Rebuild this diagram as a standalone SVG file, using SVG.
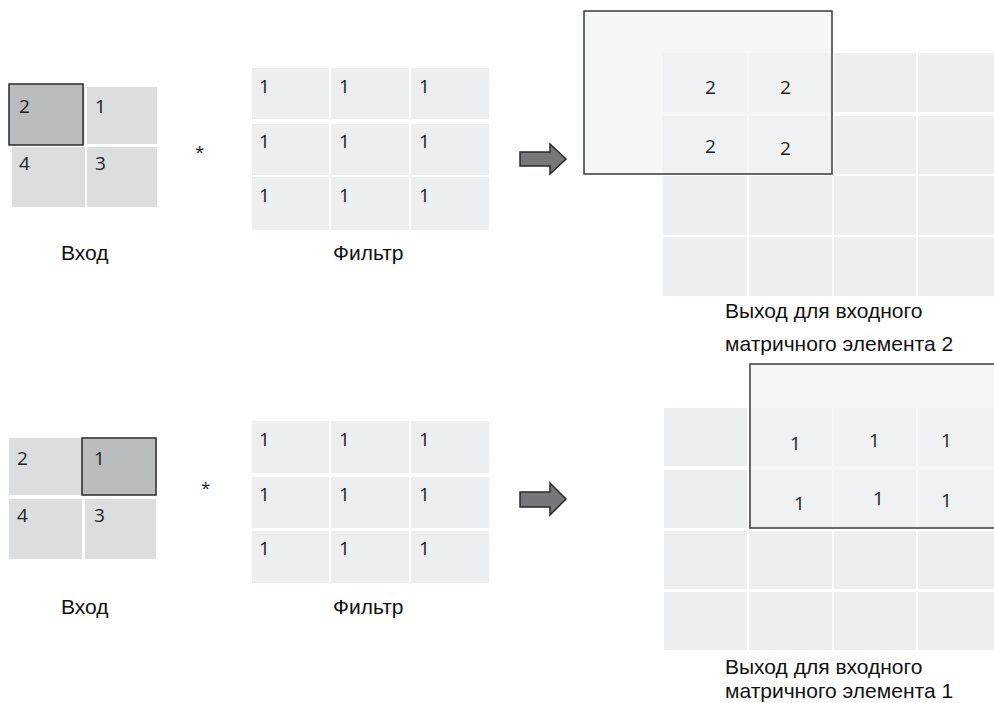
<svg xmlns="http://www.w3.org/2000/svg" width="994" height="703" viewBox="0 0 994 703">
<defs>
<style>
.in{fill:#dcddde}
.hi{fill:#bbbcbe;stroke:#2a2a2a;stroke-width:1.5}
.fc{fill:#eceeef}
.ov{fill:#f1f2f2;fill-opacity:0.72;stroke:#3a3a3a;stroke-width:1.5}
.num{font-family:"Open Sans","Noto Sans",sans-serif;font-size:19px;fill:#222}
.star{font-family:"Open Sans","Noto Sans",sans-serif;font-size:17px;fill:#222}
.lbl{font-family:"Liberation Sans",Arial,sans-serif;font-size:21px;fill:#111}
.arr{fill:#76777a;stroke:#2a2a2a;stroke-width:1.5;stroke-linejoin:miter}
</style>
</defs>
<rect width="994" height="703" fill="#fff"/>

<!-- Top row -->
<g id="input-top">
<rect class="in" x="12" y="87" width="73" height="57"/>
<rect class="in" x="87" y="87" width="70" height="57"/>
<rect class="in" x="12" y="147" width="73" height="60"/>
<rect class="in" x="87" y="147" width="70" height="60"/>
<rect class="hi" x="9" y="84" width="74" height="61"/>
<text class="num" x="19" y="113">2</text>
<text class="num" x="95" y="113">1</text>
<text class="num" x="19" y="170">4</text>
<text class="num" x="95" y="170">3</text>
<text class="lbl" x="61" y="260">Вход</text>
</g>
<g id="op-top"><text class="star" x="195" y="158">*</text></g>
<g id="filter-top">
<rect class="fc" x="252" y="68" width="77" height="51"/>
<rect class="fc" x="331" y="68" width="78" height="51"/>
<rect class="fc" x="411" y="68" width="78" height="51"/>
<rect class="fc" x="252" y="124" width="77" height="51"/>
<rect class="fc" x="331" y="124" width="78" height="51"/>
<rect class="fc" x="411" y="124" width="78" height="51"/>
<rect class="fc" x="252" y="177" width="77" height="53"/>
<rect class="fc" x="331" y="177" width="78" height="53"/>
<rect class="fc" x="411" y="177" width="78" height="53"/>
<text class="num" x="259" y="93">1</text>
<text class="num" x="339" y="93">1</text>
<text class="num" x="419" y="93">1</text>
<text class="num" x="259" y="148">1</text>
<text class="num" x="339" y="148">1</text>
<text class="num" x="419" y="148">1</text>
<text class="num" x="259" y="202">1</text>
<text class="num" x="339" y="202">1</text>
<text class="num" x="419" y="202">1</text>
<text class="lbl" x="333" y="260">Фильтр</text>
</g>
<g id="output-top">
<rect class="fc" x="663" y="53" width="84" height="59"/>
<rect class="fc" x="749" y="53" width="83" height="59"/>
<rect class="fc" x="834" y="53" width="82" height="59"/>
<rect class="fc" x="918" y="53" width="76" height="59"/>
<rect class="fc" x="663" y="116" width="84" height="58"/>
<rect class="fc" x="749" y="116" width="83" height="58"/>
<rect class="fc" x="834" y="116" width="82" height="58"/>
<rect class="fc" x="918" y="116" width="76" height="58"/>
<rect class="fc" x="663" y="176" width="84" height="59"/>
<rect class="fc" x="749" y="176" width="83" height="59"/>
<rect class="fc" x="834" y="176" width="82" height="59"/>
<rect class="fc" x="918" y="176" width="76" height="59"/>
<rect class="fc" x="663" y="237" width="84" height="59"/>
<rect class="fc" x="749" y="237" width="83" height="59"/>
<rect class="fc" x="834" y="237" width="82" height="59"/>
<rect class="fc" x="918" y="237" width="76" height="59"/>
<rect class="ov" x="584" y="11" width="248" height="163"/>
<text class="num" x="705" y="94">2</text>
<text class="num" x="780" y="94">2</text>
<text class="num" x="705" y="153">2</text>
<text class="num" x="780" y="155">2</text>
<text class="lbl" x="725" y="318">Выход для входного</text>
<text class="lbl" x="725" y="351">матричного элемента 2</text>
</g>

<!-- Bottom row -->
<g id="input-bottom">
<rect class="in" x="9" y="438" width="73" height="57"/>
<rect class="in" x="84" y="438" width="72" height="57"/>
<rect class="in" x="9" y="499" width="73" height="60"/>
<rect class="in" x="85" y="499" width="71" height="60"/>
<rect class="hi" x="82" y="438" width="74" height="57"/>
<text class="num" x="17" y="465">2</text>
<text class="num" x="94" y="465">1</text>
<text class="num" x="17" y="522">4</text>
<text class="num" x="94" y="522">3</text>
<text class="lbl" x="61" y="614">Вход</text>
</g>
<g id="op-bottom"><text class="star" x="201" y="494">*</text></g>
<g id="filter-bottom">
<rect class="fc" x="252" y="421" width="77" height="52"/>
<rect class="fc" x="331" y="421" width="78" height="52"/>
<rect class="fc" x="411" y="421" width="78" height="52"/>
<rect class="fc" x="252" y="477" width="77" height="51"/>
<rect class="fc" x="331" y="477" width="78" height="51"/>
<rect class="fc" x="411" y="477" width="78" height="51"/>
<rect class="fc" x="252" y="531" width="77" height="52"/>
<rect class="fc" x="331" y="531" width="78" height="52"/>
<rect class="fc" x="411" y="531" width="78" height="52"/>
<text class="num" x="259" y="446">1</text>
<text class="num" x="339" y="446">1</text>
<text class="num" x="419" y="446">1</text>
<text class="num" x="259" y="501">1</text>
<text class="num" x="339" y="501">1</text>
<text class="num" x="419" y="501">1</text>
<text class="num" x="259" y="555">1</text>
<text class="num" x="339" y="555">1</text>
<text class="num" x="419" y="555">1</text>
<text class="lbl" x="333" y="614">Фильтр</text>
</g>
<g id="output-bottom">
<rect class="fc" x="664" y="408" width="83" height="58"/>
<rect class="fc" x="749" y="408" width="83" height="58"/>
<rect class="fc" x="834" y="408" width="82" height="58"/>
<rect class="fc" x="918" y="408" width="76" height="58"/>
<rect class="fc" x="664" y="470" width="83" height="58"/>
<rect class="fc" x="749" y="470" width="83" height="58"/>
<rect class="fc" x="834" y="470" width="82" height="58"/>
<rect class="fc" x="918" y="470" width="76" height="58"/>
<rect class="fc" x="664" y="531" width="83" height="58"/>
<rect class="fc" x="749" y="531" width="83" height="58"/>
<rect class="fc" x="834" y="531" width="82" height="58"/>
<rect class="fc" x="918" y="531" width="76" height="58"/>
<rect class="fc" x="664" y="592" width="83" height="58"/>
<rect class="fc" x="749" y="592" width="83" height="58"/>
<rect class="fc" x="834" y="592" width="82" height="58"/>
<rect class="fc" x="918" y="592" width="76" height="58"/>
<rect class="ov" x="750" y="364" width="260" height="164"/>
<text class="num" x="790" y="450">1</text>
<text class="num" x="869" y="447">1</text>
<text class="num" x="941" y="447">1</text>
<text class="num" x="794" y="510">1</text>
<text class="num" x="873" y="505">1</text>
<text class="num" x="941" y="507">1</text>
<text class="lbl" x="725" y="674">Выход для входного</text>
<text class="lbl" x="725" y="698">матричного элемента 1</text>
</g>

<g id="connectors">
<path class="arr" d="M520,152 H550 V144 L566,159 L550,174 V166 H520 Z"/>
<path class="arr" d="M520,492 H550 V483 L566,499 L550,515 V507 H520 Z"/>
</g>
</svg>
